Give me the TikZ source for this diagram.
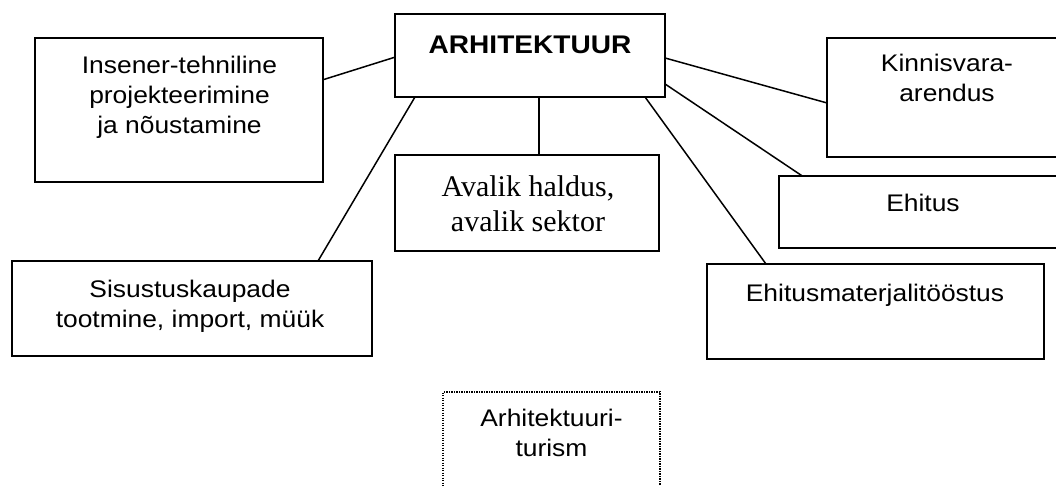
\documentclass[tikz,border=0pt]{standalone}
\usepackage{fontspec}
\usetikzlibrary{calc}
\newfontfamily\arialfont{Liberation Sans}[FakeStretch=1.1]
\newfontfamily\timesfont{Liberation Serif}

\begin{document}
\begin{tikzpicture}[x=1pt,y=-1pt,line width=1.5pt,
    box/.style={draw,rectangle,inner sep=0pt,outer sep=0pt},
    dotbox/.style={box,line width=1.3pt,dash pattern=on 1.3pt off 1.2pt},
    txt/.style={anchor=north,inner sep=0pt,align=center,
        font=\arialfont\fontsize{24}{30}\selectfont}]
    \useasboundingbox (0,0) rectangle (1056,486);
    \clip (0,0) rectangle (1056,486);
    % boxes
    \node[box,minimum width=270,minimum height=83] (arh) at (530,55.5) {};
    \node[box,minimum width=288,minimum height=144] (ins) at (179,110) {};
    \node[box,minimum width=243,minimum height=119] (kin) at (948.5,97.5) {};
    \node[box,minimum width=264,minimum height=96] (avl) at (527,203) {};
    \node[box,minimum width=291,minimum height=72] (ehi) at (924.5,212) {};
    \node[box,minimum width=360,minimum height=95] (sis) at (192,308.5) {};
    \node[box,minimum width=337,minimum height=95] (mat) at (875.5,311.5) {};
    \node[dotbox,minimum width=217,minimum height=128] (tur) at (551.5,456) {};
    % texts
    \node[txt,font=\arialfont\bfseries\fontsize{25.5}{30}\selectfont] (arhtxt) at (530,35) {ARHITEKTUUR};
    \node[txt] (instxt) at (179.5,55) {Insener-tehniline\\projekteerimine\\ja nõustamine};
    \node[txt] (kintxt) at (947,53) {Kinnisvara-\\arendus};
    \node[txt,font=\timesfont\fontsize{30}{35}\selectfont] (avltxt) at (528,174.5) {Avalik haldus,\\avalik sektor};
    \node[txt] (ehitxt) at (923,193) {Ehitus};
    \node[txt] (sistxt) at (190,279) {Sisustuskaupade\\tootmine, import, müük};
    \node[txt] (mattxt) at (875,283) {Ehitusmaterjalitööstus};
    \node[txt] (turtxt) at (551.5,408) {Arhitektuuri-\\turism};
    % connectors
    \draw ($(ins.north east)!0.29!(ins.south east)$) -- ($(arh.north west)!0.52!(arh.south west)$);
    \draw ($(arh.south west)!0.074!(arh.south east)$) -- ($(sis.north west)!0.85!(sis.north east)$);
    \coordinate (avltop) at ($(avl.north west)!0.545!(avl.north east)$);
    \draw (avltop) -- (avltop |- arh.south);
    \draw ($(arh.south west)!0.926!(arh.south east)$) -- ($(mat.north west)!0.175!(mat.north east)$);
    \draw ($(arh.north east)!0.53!(arh.south east)$) -- ($(kin.north west)!0.546!(kin.south west)$);
    \draw ($(arh.north east)!0.843!(arh.south east)$) -- ($(ehi.north west)!0.08!(ehi.north east)$);
\end{tikzpicture}
\end{document}
